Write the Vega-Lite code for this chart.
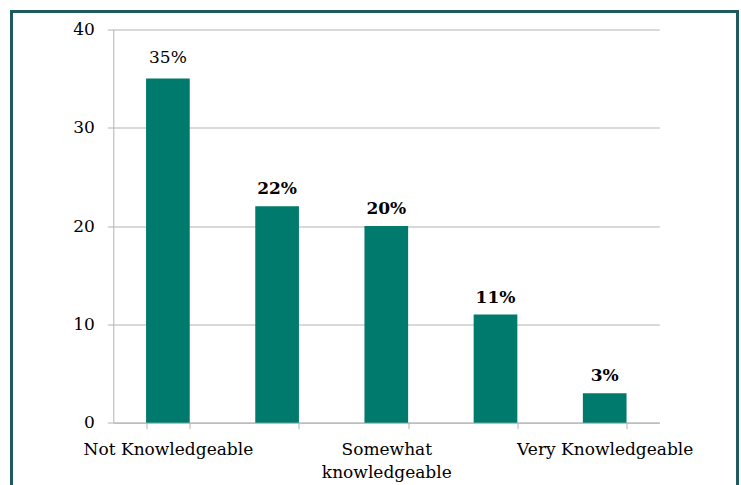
{
  "$schema": "https://vega.github.io/schema/vega-lite/v6.json",
  "width": 726,
  "height": 480,
  "autosize": {"type": "none"},
  "padding": {"left": 11.5, "top": 11.5, "right": 3.5, "bottom": -6.5},
  "background": "white",
  "config": {
    "view": {"stroke": "#1d5b5e", "strokeWidth": 3},
    "font": "DejaVu Serif"
  },
  "data": {
    "values": [
      {"level": "1", "value": 35, "label": "35%"},
      {"level": "2", "value": 22, "label": "22%"},
      {"level": "3", "value": 20, "label": "20%"},
      {"level": "4", "value": 11, "label": "11%"},
      {"level": "5", "value": 3, "label": "3%"}
    ]
  },
  "encoding": {
    "x": {
      "field": "level",
      "type": "ordinal",
      "scale": {"range": [101.8, 647.8], "paddingInner": 0.6, "paddingOuter": 0.3},
      "axis": {
        "title": null,
        "offset": -68.8,
        "grid": false,
        "domainColor": "#b3b3b3",
        "tickColor": "#b3b3b3",
        "tickSize": 6,
        "tickBand": "extent",
        "labelAngle": 0,
        "labelFontSize": 17,
        "labelColor": "#000000",
        "labelPadding": 13,
        "labelLineHeight": 23,
        "labelBaseline": "top",
        "labelOverlap": false,
        "labelBound": false,
        "labelFlush": false,
        "labelExpr": "datum.value == '1' ? 'Not Knowledgeable' : datum.value == '3' ? ['Somewhat', 'knowledgeable'] : datum.value == '5' ? 'Very Knowledgeable' : ''"
      }
    },
    "y": {
      "field": "value",
      "type": "quantitative",
      "scale": {"domain": [0, 40], "range": [411.2, 17.8], "nice": false, "zero": true},
      "axis": {
        "title": null,
        "offset": -101.8,
        "values": [0, 10, 20, 30, 40],
        "grid": true,
        "gridColor": "#b3b3b3",
        "domainColor": "#b3b3b3",
        "tickColor": "#b3b3b3",
        "tickSize": 6,
        "labelFontSize": 17,
        "labelColor": "#000000",
        "labelPadding": 13,
        "labelBaseline": "middle"
      }
    }
  },
  "layer": [
    {
      "mark": {"type": "bar", "color": "#007a6c"}
    },
    {
      "transform": [{"filter": "datum.level == '1'"}],
      "mark": {"type": "text", "baseline": "alphabetic", "dy": -15, "fontSize": 17, "color": "#000000", "fontWeight": "normal"},
      "encoding": {"text": {"field": "label"}}
    },
    {
      "transform": [{"filter": "datum.level != '1'"}],
      "mark": {"type": "text", "baseline": "alphabetic", "dy": -12, "fontSize": 17, "color": "#000000", "fontWeight": "bold"},
      "encoding": {"text": {"field": "label"}}
    }
  ]
}
